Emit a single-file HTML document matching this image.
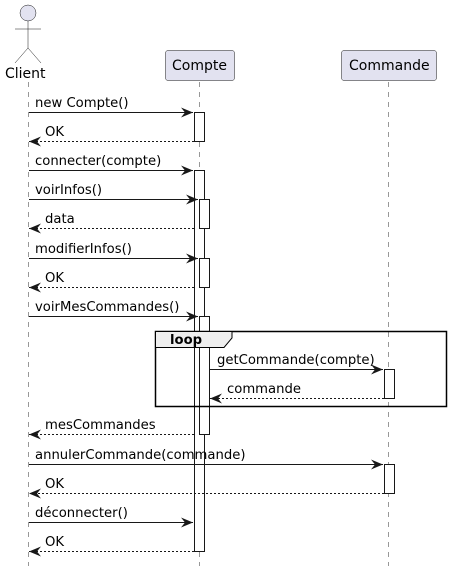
<!DOCTYPE html>
<html><head><meta charset="utf-8"><style>
html,body{margin:0;padding:0;background:#fff;}
svg{display:block;}
text{font-family:"DejaVu Sans","Liberation Sans",sans-serif;font-size:13.2px;fill:#000;}
</style></head><body>
<svg width="451" height="575" viewBox="0 0 451 575" xmlns="http://www.w3.org/2000/svg">
<defs>
<marker id="a" markerWidth="14" markerHeight="12" refX="12" refY="5" orient="auto" markerUnits="userSpaceOnUse">
<path d="M0,0 L12,5 L0,10 L4,5 Z" fill="#181818"/>
</marker>
</defs>
<!-- lifelines -->
<g stroke="#555" stroke-width="0.6" stroke-dasharray="5,5">
<line x1="28.5" y1="82" x2="28.5" y2="566"/>
<line x1="199.5" y1="82" x2="199.5" y2="566"/>
<line x1="388.5" y1="82" x2="388.5" y2="566"/>
</g>
<!-- actor -->
<g stroke="#181818" stroke-width="0.5" fill="none">
<circle cx="28" cy="13" r="8" fill="#E2E2F0"/>
<line x1="28" y1="21" x2="28" y2="48"/>
<line x1="15" y1="29" x2="41" y2="29"/>
<line x1="28" y1="48" x2="15" y2="63"/>
<line x1="28" y1="48" x2="41" y2="63"/>
</g>
<text x="5" y="78" style="font-size:14px">Client</text>
<!-- participants -->
<rect x="165.5" y="50.5" width="69" height="30" rx="2.5" fill="#E2E2F0" stroke="#181818" stroke-width="0.5"/>
<text x="172" y="70" style="font-size:14px">Compte</text>
<rect x="341.5" y="50.5" width="95" height="30" rx="2.5" fill="#E2E2F0" stroke="#181818" stroke-width="0.5"/>
<text x="349" y="70" style="font-size:14px">Commande</text>
<!-- activation bars -->
<g fill="#fff" stroke="#181818" stroke-width="1">
<rect x="194.5" y="112.5" width="10" height="29"/>
<rect x="194.5" y="170.5" width="10" height="381"/>
<rect x="199.5" y="199.5" width="10" height="29"/>
<rect x="199.5" y="258.5" width="10" height="29"/>
<rect x="199.5" y="316.5" width="10" height="118"/>
<rect x="384.5" y="369.5" width="10" height="29"/>
<rect x="384.5" y="464.5" width="10" height="29"/>
</g>
<!-- loop frame -->
<rect x="155.5" y="331.5" width="291" height="75" fill="none" stroke="#000" stroke-width="1.5"/>
<path d="M155.5,331.5 L232,331.5 L232,338 L224,347.5 L155.5,347.5 Z" fill="#EEEEEE" stroke="#000" stroke-width="1"/>
<text x="170" y="344" style="font-weight:bold">loop</text>
<!-- messages -->
<g stroke="#181818" stroke-width="1" fill="none">
<line x1="29" y1="112.5" x2="193" y2="112.5" marker-end="url(#a)"/>
<line x1="194" y1="141.5" x2="29" y2="141.5" stroke-dasharray="2,2" marker-end="url(#a)"/>
<line x1="29" y1="170.5" x2="193" y2="170.5" marker-end="url(#a)"/>
<line x1="29" y1="199.5" x2="198" y2="199.5" marker-end="url(#a)"/>
<line x1="194" y1="228.5" x2="29" y2="228.5" stroke-dasharray="2,2" marker-end="url(#a)"/>
<line x1="29" y1="258.5" x2="198" y2="258.5" marker-end="url(#a)"/>
<line x1="194" y1="287.5" x2="29" y2="287.5" stroke-dasharray="2,2" marker-end="url(#a)"/>
<line x1="29" y1="316.5" x2="198" y2="316.5" marker-end="url(#a)"/>
<line x1="210" y1="369.5" x2="383" y2="369.5" marker-end="url(#a)"/>
<line x1="384" y1="398.5" x2="210" y2="398.5" stroke-dasharray="2,2" marker-end="url(#a)"/>
<line x1="194" y1="434.5" x2="29" y2="434.5" stroke-dasharray="2,2" marker-end="url(#a)"/>
<line x1="29" y1="464.5" x2="383" y2="464.5" marker-end="url(#a)"/>
<line x1="384" y1="493.5" x2="29" y2="493.5" stroke-dasharray="2,2" marker-end="url(#a)"/>
<line x1="29" y1="522.5" x2="193" y2="522.5" marker-end="url(#a)"/>
<line x1="194" y1="551.5" x2="29" y2="551.5" stroke-dasharray="2,2" marker-end="url(#a)"/>
</g>
<text x="35" y="107">new Compte()</text>
<text x="45" y="136">OK</text>
<text x="35" y="165">connecter(compte)</text>
<text x="35" y="194">voirInfos()</text>
<text x="45" y="223">data</text>
<text x="35" y="253">modifierInfos()</text>
<text x="45" y="282">OK</text>
<text x="35" y="311">voirMesCommandes()</text>
<text x="217" y="364">getCommande(compte)</text>
<text x="227" y="393">commande</text>
<text x="45" y="429">mesCommandes</text>
<text x="35" y="459">annulerCommande(commande)</text>
<text x="45" y="488">OK</text>
<text x="35" y="517">déconnecter()</text>
<text x="45" y="546">OK</text>
</svg>
</body></html>
